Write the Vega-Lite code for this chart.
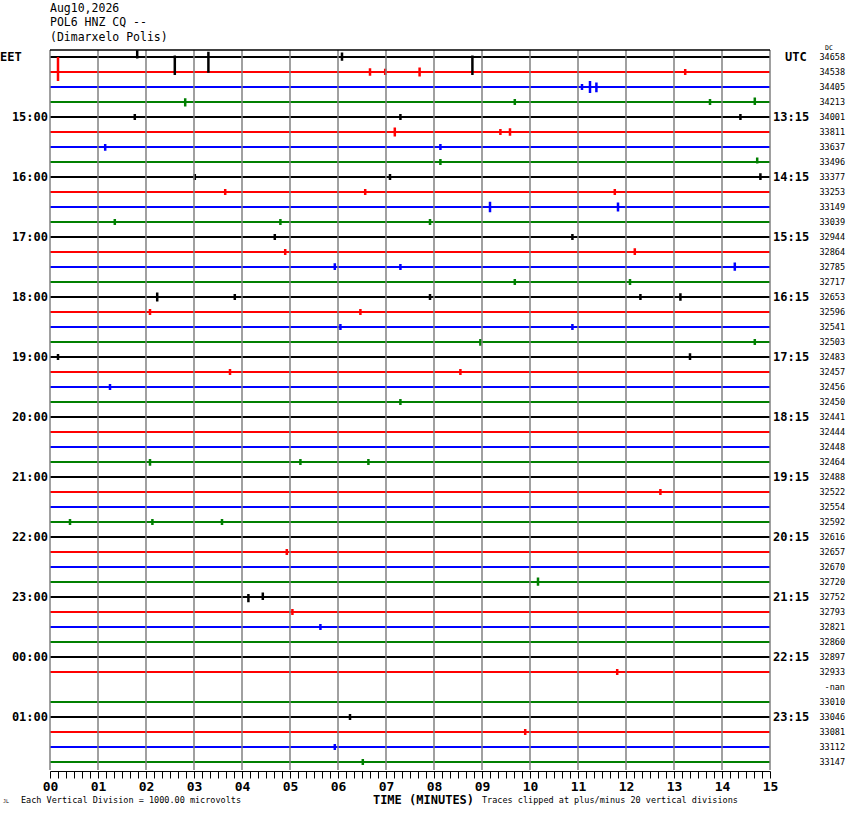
{
  "$schema": "https://vega.github.io/schema/vega-lite/v6.json",
  "width": 720,
  "height": 720,
  "autosize": {"type": "none"},
  "padding": {"left": 50, "top": 50, "right": 80, "bottom": 44},
  "background": "white",
  "config": {"view": {"stroke": null}},
  "title": {
    "text": ["Aug10,2026", "POL6 HNZ CQ --", "(Dimarxelo Polis)"],
    "anchor": "start",
    "frame": "group",
    "font": "DejaVu Sans Mono",
    "fontSize": 11.5,
    "fontWeight": "normal",
    "lineHeight": 14.5,
    "color": "black",
    "offset": 2
  },
  "datasets": {
    "traces": [
      {"row": 0, "q": 0, "dc": "34658"},
      {"row": 1, "q": 1, "dc": "34538"},
      {"row": 2, "q": 2, "dc": "34405"},
      {"row": 3, "q": 3, "dc": "34213"},
      {"row": 4, "q": 0, "dc": "34001", "eet": "15:00", "utc": "13:15"},
      {"row": 5, "q": 1, "dc": "33811"},
      {"row": 6, "q": 2, "dc": "33637"},
      {"row": 7, "q": 3, "dc": "33496"},
      {"row": 8, "q": 0, "dc": "33377", "eet": "16:00", "utc": "14:15"},
      {"row": 9, "q": 1, "dc": "33253"},
      {"row": 10, "q": 2, "dc": "33149"},
      {"row": 11, "q": 3, "dc": "33039"},
      {"row": 12, "q": 0, "dc": "32944", "eet": "17:00", "utc": "15:15"},
      {"row": 13, "q": 1, "dc": "32864"},
      {"row": 14, "q": 2, "dc": "32785"},
      {"row": 15, "q": 3, "dc": "32717"},
      {"row": 16, "q": 0, "dc": "32653", "eet": "18:00", "utc": "16:15"},
      {"row": 17, "q": 1, "dc": "32596"},
      {"row": 18, "q": 2, "dc": "32541"},
      {"row": 19, "q": 3, "dc": "32503"},
      {"row": 20, "q": 0, "dc": "32483", "eet": "19:00", "utc": "17:15"},
      {"row": 21, "q": 1, "dc": "32457"},
      {"row": 22, "q": 2, "dc": "32456"},
      {"row": 23, "q": 3, "dc": "32450"},
      {"row": 24, "q": 0, "dc": "32441", "eet": "20:00", "utc": "18:15"},
      {"row": 25, "q": 1, "dc": "32444"},
      {"row": 26, "q": 2, "dc": "32448"},
      {"row": 27, "q": 3, "dc": "32464"},
      {"row": 28, "q": 0, "dc": "32488", "eet": "21:00", "utc": "19:15"},
      {"row": 29, "q": 1, "dc": "32522"},
      {"row": 30, "q": 2, "dc": "32554"},
      {"row": 31, "q": 3, "dc": "32592"},
      {"row": 32, "q": 0, "dc": "32616", "eet": "22:00", "utc": "20:15"},
      {"row": 33, "q": 1, "dc": "32657"},
      {"row": 34, "q": 2, "dc": "32670"},
      {"row": 35, "q": 3, "dc": "32720"},
      {"row": 36, "q": 0, "dc": "32752", "eet": "23:00", "utc": "21:15"},
      {"row": 37, "q": 1, "dc": "32793"},
      {"row": 38, "q": 2, "dc": "32821"},
      {"row": 39, "q": 3, "dc": "32860"},
      {"row": 40, "q": 0, "dc": "32897", "eet": "00:00", "utc": "22:15"},
      {"row": 41, "q": 1, "dc": "32933"},
      {"row": 42, "q": 2, "dc": "-nan"},
      {"row": 43, "q": 3, "dc": "33010"},
      {"row": 44, "q": 0, "dc": "33046", "eet": "01:00", "utc": "23:15"},
      {"row": 45, "q": 1, "dc": "33081"},
      {"row": 46, "q": 2, "dc": "33112"},
      {"row": 47, "q": 3, "dc": "33147"}
    ],
    "events": [
      {"row": 0, "q": 0, "sec": 109, "y": -0.45, "y2": 0.1},
      {"row": 0, "q": 0, "sec": 156, "y": -0.1, "y2": 1.2},
      {"row": 0, "q": 0, "sec": 198, "y": -0.35, "y2": 1.05},
      {"row": 0, "q": 0, "sec": 365, "y": -0.3, "y2": 0.25},
      {"row": 0, "q": 0, "sec": 528, "y": -0.1, "y2": 1.2},
      {"row": 1, "q": 1, "sec": 10, "y": 0.0, "y2": 1.6},
      {"row": 1, "q": 1, "sec": 400, "y": 0.75, "y2": 1.25},
      {"row": 1, "q": 1, "sec": 419, "y": 0.78, "y2": 1.2},
      {"row": 1, "q": 1, "sec": 462, "y": 0.7, "y2": 1.3},
      {"row": 1, "q": 1, "sec": 794, "y": 0.8, "y2": 1.2},
      {"row": 2, "q": 2, "sec": 665, "y": 1.8, "y2": 2.2},
      {"row": 2, "q": 2, "sec": 675, "y": 1.6, "y2": 2.4},
      {"row": 2, "q": 2, "sec": 683, "y": 1.7, "y2": 2.35},
      {"row": 3, "q": 3, "sec": 169, "y": 2.75, "y2": 3.3},
      {"row": 3, "q": 3, "sec": 581, "y": 2.8, "y2": 3.2},
      {"row": 3, "q": 3, "sec": 825, "y": 2.8, "y2": 3.2},
      {"row": 3, "q": 3, "sec": 881, "y": 2.7, "y2": 3.2},
      {"row": 4, "q": 0, "sec": 106, "y": 3.8, "y2": 4.2},
      {"row": 4, "q": 0, "sec": 438, "y": 3.8, "y2": 4.2},
      {"row": 4, "q": 0, "sec": 863, "y": 3.8, "y2": 4.2},
      {"row": 5, "q": 1, "sec": 431, "y": 4.7, "y2": 5.3},
      {"row": 5, "q": 1, "sec": 563, "y": 4.8, "y2": 5.2},
      {"row": 5, "q": 1, "sec": 575, "y": 4.75, "y2": 5.25},
      {"row": 6, "q": 2, "sec": 69, "y": 5.8, "y2": 6.25},
      {"row": 6, "q": 2, "sec": 488, "y": 5.8, "y2": 6.2},
      {"row": 7, "q": 3, "sec": 488, "y": 6.8, "y2": 7.2},
      {"row": 7, "q": 3, "sec": 884, "y": 6.7, "y2": 7.1},
      {"row": 8, "q": 0, "sec": 181, "y": 7.8, "y2": 8.2},
      {"row": 8, "q": 0, "sec": 425, "y": 7.8, "y2": 8.2},
      {"row": 8, "q": 0, "sec": 888, "y": 7.75, "y2": 8.2},
      {"row": 9, "q": 1, "sec": 219, "y": 8.8, "y2": 9.2},
      {"row": 9, "q": 1, "sec": 394, "y": 8.8, "y2": 9.2},
      {"row": 9, "q": 1, "sec": 706, "y": 8.8, "y2": 9.2},
      {"row": 10, "q": 2, "sec": 550, "y": 9.65, "y2": 10.35},
      {"row": 10, "q": 2, "sec": 710, "y": 9.7, "y2": 10.3},
      {"row": 11, "q": 3, "sec": 81, "y": 10.8, "y2": 11.2},
      {"row": 11, "q": 3, "sec": 288, "y": 10.8, "y2": 11.2},
      {"row": 11, "q": 3, "sec": 475, "y": 10.8, "y2": 11.2},
      {"row": 12, "q": 0, "sec": 281, "y": 11.8, "y2": 12.2},
      {"row": 12, "q": 0, "sec": 653, "y": 11.8, "y2": 12.2},
      {"row": 13, "q": 1, "sec": 294, "y": 12.8, "y2": 13.2},
      {"row": 13, "q": 1, "sec": 731, "y": 12.75, "y2": 13.2},
      {"row": 14, "q": 2, "sec": 356, "y": 13.75, "y2": 14.2},
      {"row": 14, "q": 2, "sec": 438, "y": 13.8, "y2": 14.2},
      {"row": 14, "q": 2, "sec": 856, "y": 13.7, "y2": 14.25},
      {"row": 15, "q": 3, "sec": 581, "y": 14.8, "y2": 15.2},
      {"row": 15, "q": 3, "sec": 725, "y": 14.8, "y2": 15.2},
      {"row": 16, "q": 0, "sec": 134, "y": 15.7, "y2": 16.3},
      {"row": 16, "q": 0, "sec": 231, "y": 15.8, "y2": 16.2},
      {"row": 16, "q": 0, "sec": 475, "y": 15.8, "y2": 16.2},
      {"row": 16, "q": 0, "sec": 738, "y": 15.8, "y2": 16.2},
      {"row": 16, "q": 0, "sec": 788, "y": 15.75, "y2": 16.25},
      {"row": 17, "q": 1, "sec": 125, "y": 16.8, "y2": 17.2},
      {"row": 17, "q": 1, "sec": 388, "y": 16.8, "y2": 17.2},
      {"row": 18, "q": 2, "sec": 363, "y": 17.8, "y2": 18.2},
      {"row": 18, "q": 2, "sec": 653, "y": 17.8, "y2": 18.2},
      {"row": 19, "q": 3, "sec": 538, "y": 18.8, "y2": 19.25},
      {"row": 19, "q": 3, "sec": 881, "y": 18.8, "y2": 19.2},
      {"row": 20, "q": 0, "sec": 10, "y": 19.8, "y2": 20.2},
      {"row": 20, "q": 0, "sec": 800, "y": 19.75, "y2": 20.2},
      {"row": 21, "q": 1, "sec": 225, "y": 20.8, "y2": 21.2},
      {"row": 21, "q": 1, "sec": 513, "y": 20.8, "y2": 21.2},
      {"row": 22, "q": 2, "sec": 75, "y": 21.8, "y2": 22.2},
      {"row": 23, "q": 3, "sec": 438, "y": 22.8, "y2": 23.2},
      {"row": 27, "q": 3, "sec": 125, "y": 26.8, "y2": 27.25},
      {"row": 27, "q": 3, "sec": 313, "y": 26.8, "y2": 27.2},
      {"row": 27, "q": 3, "sec": 398, "y": 26.8, "y2": 27.2},
      {"row": 29, "q": 1, "sec": 763, "y": 28.8, "y2": 29.2},
      {"row": 31, "q": 3, "sec": 25, "y": 30.8, "y2": 31.2},
      {"row": 31, "q": 3, "sec": 128, "y": 30.8, "y2": 31.2},
      {"row": 31, "q": 3, "sec": 215, "y": 30.8, "y2": 31.2},
      {"row": 33, "q": 1, "sec": 296, "y": 32.8, "y2": 33.2},
      {"row": 35, "q": 3, "sec": 610, "y": 34.7, "y2": 35.25},
      {"row": 36, "q": 0, "sec": 248, "y": 35.8, "y2": 36.35},
      {"row": 36, "q": 0, "sec": 266, "y": 35.7, "y2": 36.2},
      {"row": 37, "q": 1, "sec": 303, "y": 36.8, "y2": 37.2},
      {"row": 38, "q": 2, "sec": 338, "y": 37.8, "y2": 38.2},
      {"row": 41, "q": 1, "sec": 709, "y": 40.8, "y2": 41.2},
      {"row": 44, "q": 0, "sec": 375, "y": 43.8, "y2": 44.2},
      {"row": 45, "q": 1, "sec": 594, "y": 44.8, "y2": 45.2},
      {"row": 46, "q": 2, "sec": 356, "y": 45.8, "y2": 46.2},
      {"row": 47, "q": 3, "sec": 391, "y": 46.8, "y2": 47.2}
    ],
    "minutes": [
      {"sec": 0}, {"sec": 60}, {"sec": 120}, {"sec": 180}, {"sec": 240},
      {"sec": 300}, {"sec": 360}, {"sec": 420}, {"sec": 480}, {"sec": 540},
      {"sec": 600}, {"sec": 660}, {"sec": 720}, {"sec": 780}, {"sec": 840},
      {"sec": 900}
    ]
  },
  "layer": [
    {
      "data": {"name": "traces"},
      "transform": [{"filter": "datum.dc != '-nan'"}],
      "mark": {"type": "rule", "strokeWidth": 2.2},
      "encoding": {
        "x": {"datum": 0, "type": "quantitative", "scale": {"domain": [0, 900], "nice": false, "zero": false}},
        "x2": {"datum": 900},
        "y": {"field": "row", "type": "quantitative", "scale": {"domain": [-0.4667, 47.5333], "reverse": true, "nice": false, "zero": false}, "axis": null},
        "color": {"field": "q", "type": "nominal", "scale": {"domain": [0, 1, 2, 3], "range": ["#000000", "#ff0000", "#0000ff", "#007f00"]}, "legend": null}
      }
    },
    {
      "data": {"name": "events"},
      "mark": {"type": "rule", "strokeWidth": 2.5},
      "encoding": {
        "x": {"field": "sec", "type": "quantitative"},
        "y": {"field": "y", "type": "quantitative"},
        "y2": {"field": "y2"},
        "color": {"field": "q", "type": "nominal", "legend": null}
      }
    },
    {
      "data": {"name": "minutes"},
      "mark": {"type": "rule", "color": "#808080", "strokeWidth": 1.5},
      "encoding": {
        "x": {
          "field": "sec",
          "type": "quantitative",
          "axis": {
            "tickCount": 90,
            "labelExpr": "datum.value % 60 == 0 ? (datum.value < 600 ? '0' : '') + (datum.value / 60) : ''",
            "labelOverlap": false,
            "labelFlush": false,
            "grid": false,
            "offset": 1,
            "domainColor": "black",
            "domainWidth": 1,
            "tickColor": "black",
            "tickSize": 7,
            "tickWidth": 1,
            "labelFont": "DejaVu Sans Mono",
            "labelFontWeight": "bold",
            "labelFontSize": 13,
            "labelColor": "black",
            "labelPadding": 2,
            "title": "TIME (MINUTES)",
            "titleFont": "DejaVu Sans Mono",
            "titleFontWeight": "bold",
            "titleFontSize": 12,
            "titleColor": "black",
            "titleX": 373,
            "titleY": 32,
            "titleAlign": "center",
            "titleBaseline": "alphabetic"
          }
        }
      }
    },
    {
      "data": {"values": [{"edge": "top"}]},
      "mark": {"type": "rule", "color": "black", "strokeWidth": 1.5},
      "encoding": {
        "y": {"datum": -0.4667, "type": "quantitative"}
      }
    },
    {
      "data": {"name": "traces"},
      "transform": [{"filter": "isValid(datum.eet)"}],
      "mark": {"type": "text", "align": "right", "baseline": "middle", "dx": -2, "font": "DejaVu Sans Mono", "fontWeight": "bold", "fontSize": 12, "color": "black"},
      "encoding": {
        "x": {"datum": 0, "type": "quantitative"},
        "y": {"field": "row", "type": "quantitative"},
        "text": {"field": "eet"}
      }
    },
    {
      "data": {"name": "traces"},
      "transform": [{"filter": "isValid(datum.utc)"}],
      "mark": {"type": "text", "align": "left", "baseline": "middle", "dx": 3, "font": "DejaVu Sans Mono", "fontWeight": "bold", "fontSize": 12, "color": "black"},
      "encoding": {
        "x": {"datum": 900, "type": "quantitative"},
        "y": {"field": "row", "type": "quantitative"},
        "text": {"field": "utc"}
      }
    },
    {
      "data": {"name": "traces"},
      "mark": {"type": "text", "align": "right", "baseline": "middle", "dx": 75, "font": "DejaVu Sans Mono", "fontSize": 8.5, "color": "black"},
      "encoding": {
        "x": {"datum": 900, "type": "quantitative"},
        "y": {"field": "row", "type": "quantitative"},
        "text": {"field": "dc"}
      }
    },
    {
      "data": {"values": [{"label": "EET"}]},
      "mark": {"type": "text", "align": "left", "baseline": "middle", "dx": -50, "font": "DejaVu Sans Mono", "fontWeight": "bold", "fontSize": 12, "color": "black"},
      "encoding": {
        "x": {"datum": 0, "type": "quantitative"},
        "y": {"datum": 0, "type": "quantitative"},
        "text": {"field": "label"}
      }
    },
    {
      "data": {"values": [{"label": "UTC"}]},
      "mark": {"type": "text", "align": "left", "baseline": "middle", "dx": 15, "font": "DejaVu Sans Mono", "fontWeight": "bold", "fontSize": 12, "color": "black"},
      "encoding": {
        "x": {"datum": 900, "type": "quantitative"},
        "y": {"datum": 0, "type": "quantitative"},
        "text": {"field": "label"}
      }
    },
    {
      "data": {"values": [{"label": "DC"}]},
      "mark": {"type": "text", "align": "left", "baseline": "bottom", "dx": 55, "dy": -6, "font": "DejaVu Sans Mono", "fontSize": 6.5, "color": "black"},
      "encoding": {
        "x": {"datum": 900, "type": "quantitative"},
        "y": {"datum": 0, "type": "quantitative"},
        "text": {"field": "label"}
      }
    },
    {
      "data": {"values": [{"label": "Each Vertical Division = 1000.00 microvolts"}]},
      "mark": {"type": "text", "align": "left", "baseline": "alphabetic", "dx": -29, "dy": 33, "font": "DejaVu Sans Mono", "fontSize": 8.5, "color": "black"},
      "encoding": {
        "x": {"datum": 0, "type": "quantitative"},
        "y": {"datum": 47.5333, "type": "quantitative"},
        "text": {"field": "label"}
      }
    },
    {
      "data": {"values": [{"label": "JL"}]},
      "mark": {"type": "text", "align": "left", "baseline": "alphabetic", "dx": -47, "dy": 33, "font": "DejaVu Sans Mono", "fontSize": 5, "color": "black"},
      "encoding": {
        "x": {"datum": 0, "type": "quantitative"},
        "y": {"datum": 47.5333, "type": "quantitative"},
        "text": {"field": "label"}
      }
    },
    {
      "data": {"values": [{"label": "Traces clipped at plus/minus 20 vertical divisions"}]},
      "mark": {"type": "text", "align": "left", "baseline": "alphabetic", "dy": 33, "font": "DejaVu Sans Mono", "fontSize": 8.5, "color": "black"},
      "encoding": {
        "x": {"datum": 540, "type": "quantitative"},
        "y": {"datum": 47.5333, "type": "quantitative"},
        "text": {"field": "label"}
      }
    }
  ]
}
